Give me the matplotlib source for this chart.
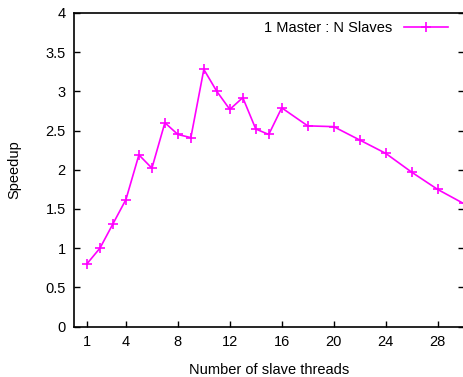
import matplotlib
matplotlib.use("Agg")
import matplotlib.pyplot as plt

threads = [1, 2, 3, 4, 5, 6, 7, 8, 9, 10, 11, 12, 13, 14, 15, 16, 18, 20, 22, 24, 26, 28, 30]
speedup = [0.80, 1.00, 1.31, 1.62, 2.19, 2.02, 2.60, 2.45, 2.41, 3.28, 3.00, 2.77, 2.92,
           2.52, 2.45, 2.79, 2.56, 2.55, 2.38, 2.21, 1.97, 1.75, 1.57]
xticks = [1, 4, 8, 12, 16, 20, 24, 28]
yticks = [0, 0.5, 1, 1.5, 2, 2.5, 3, 3.5, 4]
yticklabels = ["0", "0.5", "1", "1.5", "2", "2.5", "3", "3.5", "4"]

plt.rcParams['font.family'] = ['Liberation Sans', 'DejaVu Sans']
W, H = 463, 377
fig = plt.figure(figsize=(W / 100, H / 100), dpi=100)
ax = fig.add_axes([74 / W, 1 - 326.5 / H, (463.5 - 74) / W, (326.5 - 13) / H])

ax.plot(threads, speedup, color='#ff00ff', lw=1.2, marker='+', ms=6.5, mew=1.2,
        label='1 Master : N Slaves')
ax.set_xlim(0, 30)
ax.set_ylim(0, 4)
ax.set_xticks(xticks)
ax.set_yticks(yticks)
ax.set_yticklabels(yticklabels)
ax.tick_params(axis='both', direction='in', length=4, width=1, labelsize=10.5, pad=6)
ax.tick_params(axis='y', right=True)
for s in ax.spines.values():
    s.set_linewidth(1.2)
ax.set_xlabel('Number of slave threads', fontsize=10.5, labelpad=10)
ax.set_ylabel('Speedup', fontsize=10.5, labelpad=17)

leg = ax.legend(loc='upper right', frameon=False, fontsize=10.5, markerfirst=False,
                handlelength=3.0, borderaxespad=0.15, handletextpad=0.8,
                bbox_to_anchor=(0.98, 1.0))
fig.savefig('out.png', dpi=100)
